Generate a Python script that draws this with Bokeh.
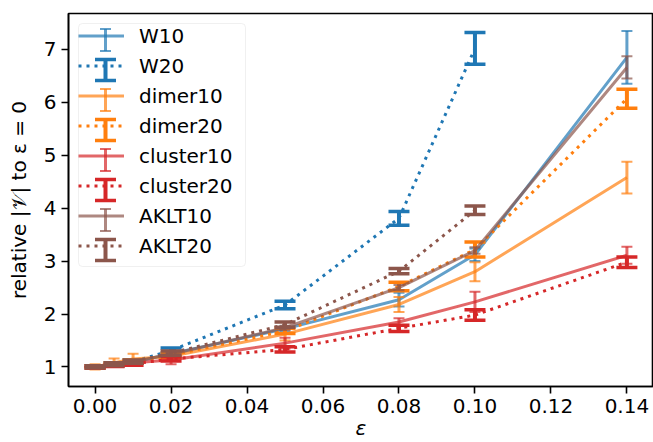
import math
from bokeh.plotting import figure
from bokeh.models import (ColumnDataSource, Legend, LegendItem, FixedTicker,
                          Range1d, BoxAnnotation)
from bokeh.embed import file_html
from bokeh.resources import INLINE

# ---- data ----
eps = [0.0, 0.005, 0.01, 0.02, 0.05, 0.08, 0.10, 0.14]
eps_short = [0.0, 0.005, 0.01, 0.02, 0.05, 0.08, 0.10]

W10 = [1.00, 1.04, 1.09, 1.25, 1.72, 2.27, 3.12, 6.85]
W10_err = [0.02, 0.03, 0.03, 0.04, 0.05, 0.13, 0.12, 0.50]
W20 = [1.00, 1.05, 1.10, 1.31, 2.17, 3.81, 7.02]
W20_err = [0.02, 0.03, 0.03, 0.05, 0.07, 0.13, 0.30]
dimer10 = [1.00, 1.08, 1.15, 1.20, 1.62, 2.18, 2.80, 4.58]
dimer10_err = [0.05, 0.08, 0.10, 0.05, 0.12, 0.14, 0.18, 0.30]
dimer20 = [1.00, 1.05, 1.10, 1.22, 1.68, 2.52, 3.22, 6.07]
dimer20_err = [0.02, 0.03, 0.03, 0.04, 0.05, 0.08, 0.14, 0.18]
cluster10 = [1.00, 1.04, 1.08, 1.13, 1.45, 1.85, 2.23, 3.11]
cluster10_err = [0.02, 0.04, 0.04, 0.08, 0.10, 0.07, 0.19, 0.16]
cluster20 = [1.00, 1.03, 1.06, 1.15, 1.33, 1.73, 1.98, 2.98]
cluster20_err = [0.02, 0.02, 0.03, 0.04, 0.05, 0.06, 0.10, 0.10]
AKLT10 = [1.00, 1.05, 1.10, 1.24, 1.74, 2.50, 3.20, 6.66]
AKLT10_err = [0.02, 0.03, 0.03, 0.04, 0.04, 0.05, 0.06, 0.21]
AKLT20 = [1.00, 1.05, 1.10, 1.26, 1.80, 2.81, 3.96]
AKLT20_err = [0.02, 0.03, 0.03, 0.04, 0.05, 0.05, 0.08]

x_ticks = [0.0, 0.02, 0.04, 0.06, 0.08, 0.10, 0.12, 0.14]
x_tick_labels = ["0.00", "0.02", "0.04", "0.06", "0.08", "0.10", "0.12", "0.14"]
y_ticks = [1, 2, 3, 4, 5, 6, 7]

BLUE, ORANGE, RED, BROWN = "#1f77b4", "#ff7f0e", "#d62728", "#8c564b"
FONT = "DejaVu Sans"

# ---- layout constants ----
BORDER_L, BORDER_T = 68, 13
LEG_MARGIN, LEG_PAD = 10, 4
LEG_GLYPH_W, LEG_ROW_H, LEG_SPACING = 46, 25, 5
LEG_STANDOFF, LEG_LABEL_W = 15, 98

p = figure(width=653, height=442, output_backend="svg", toolbar_location=None,
           x_range=Range1d(-0.007, 0.147), y_range=Range1d(0.63, 7.68),
           min_border_left=BORDER_L, min_border_right=0,
           min_border_top=BORDER_T, min_border_bottom=55)
p.grid.visible = False
p.outline_line_color = "black"
p.outline_line_width = 1.6
p.outline_line_alpha = 1.0

for ax in (p.xaxis[0], p.yaxis[0]):
    ax.axis_line_color = "black"
    ax.axis_line_width = 1.6
    ax.major_tick_out = 7
    ax.major_tick_in = 0
    ax.major_tick_line_width = 1.6
    ax.major_tick_line_color = "black"
    ax.minor_tick_line_color = None
    ax.major_label_text_font = FONT
    ax.major_label_text_font_size = "20px"
    ax.major_label_text_color = "black"
    ax.axis_label_text_font = FONT
    ax.axis_label_text_font_size = "20px"
    ax.axis_label_text_color = "black"
    ax.major_label_standoff = 5

p.xaxis.ticker = FixedTicker(ticks=x_ticks)
p.xaxis.major_label_overrides = {t: l for t, l in zip(x_ticks, x_tick_labels)}
p.yaxis.ticker = FixedTicker(ticks=y_ticks)
p.xaxis.axis_label = "ε"
p.xaxis.axis_label_text_font_style = "italic"
p.xaxis.axis_label_standoff = 0
p.yaxis.axis_label = "relative |𝒱| to ε = 0"
p.yaxis.axis_label_text_font_style = "normal"
p.yaxis.axis_label_standoff = 10

items = []
styles = []


def draw(label, xs, ys, errs, color, solid):
    alpha = 0.7 if solid else 1.0
    dash = "solid" if solid else "3 5"
    seg_w = 3 if solid else 4
    cap_size = 11 if solid else 21
    cap_w = 2 if solid else 3.5
    src = ColumnDataSource(dict(x=xs, y=ys,
                                lo=[y - e for y, e in zip(ys, errs)],
                                hi=[y + e for y, e in zip(ys, errs)]))
    ln = p.line("x", "y", source=src, line_color=color, line_alpha=alpha,
                line_width=3, line_dash=dash, line_join="round")
    p.segment("x", "lo", "x", "hi", source=src, line_color=color,
              line_alpha=alpha, line_width=seg_w)
    p.scatter("x", "lo", source=src, marker="dash", size=cap_size,
              line_color=color, line_alpha=alpha, line_width=cap_w)
    p.scatter("x", "hi", source=src, marker="dash", size=cap_size,
              line_color=color, line_alpha=alpha, line_width=cap_w)
    items.append(LegendItem(label=label, renderers=[ln]))
    styles.append((color, alpha, seg_w, cap_size, cap_w))


draw("W10", eps, W10, W10_err, BLUE, True)
draw("W20", eps_short, W20, W20_err, BLUE, False)
draw("dimer10", eps, dimer10, dimer10_err, ORANGE, True)
draw("dimer20", eps, dimer20, dimer20_err, ORANGE, False)
draw("cluster10", eps, cluster10, cluster10_err, RED, True)
draw("cluster20", eps, cluster20, cluster20_err, RED, False)
draw("AKLT10", eps, AKLT10, AKLT10_err, BROWN, True)
draw("AKLT20", eps_short, AKLT20, AKLT20_err, BROWN, False)

# legend frame (drawn as a box so the error-bar handles can sit above it)
n = len(items)
leg_l = BORDER_L + LEG_MARGIN
leg_t = BORDER_T + LEG_MARGIN
leg_r = leg_l + 2 * LEG_PAD + LEG_GLYPH_W + LEG_STANDOFF + LEG_LABEL_W
leg_b = leg_t + 2 * LEG_PAD + n * LEG_ROW_H + (n - 1) * LEG_SPACING
p.add_layout(BoxAnnotation(left=leg_l, right=leg_r, top=leg_t, bottom=leg_b,
                           left_units="canvas", right_units="canvas",
                           top_units="canvas", bottom_units="canvas",
                           fill_color="white", fill_alpha=0.8,
                           line_color="#cccccc", line_width=1,
                           border_radius=4))

# error-bar handles at the legend glyph centres (canvas pixels)
cx = leg_l + LEG_PAD + LEG_GLYPH_W / 2
for i, (color, alpha, seg_w, cap_size, cap_w) in enumerate(styles):
    cy = leg_t + LEG_PAD + LEG_ROW_H / 2 + i * (LEG_ROW_H + LEG_SPACING)
    half = 11 if cap_size < 15 else 10.5

    def box(l, r, t, b):
        p.add_layout(BoxAnnotation(left=l, right=r, top=t, bottom=b,
                                   left_units="canvas", right_units="canvas",
                                   top_units="canvas", bottom_units="canvas",
                                   fill_color=color, fill_alpha=alpha,
                                   line_color=None))

    box(cx - seg_w / 2, cx + seg_w / 2, cy - half, cy + half)
    box(cx - cap_size / 2, cx + cap_size / 2, cy - half - cap_w / 2, cy - half + cap_w / 2)
    box(cx - cap_size / 2, cx + cap_size / 2, cy + half - cap_w / 2, cy + half + cap_w / 2)

legend = Legend(items=items, location="top_left", margin=LEG_MARGIN,
                padding=LEG_PAD, spacing=LEG_SPACING, glyph_width=LEG_GLYPH_W,
                glyph_height=LEG_ROW_H, label_height=LEG_ROW_H,
                label_width=LEG_LABEL_W, label_standoff=LEG_STANDOFF,
                label_text_font=FONT, label_text_font_size="20px",
                label_text_color="black", background_fill_alpha=0.0,
                border_line_color=None)
p.add_layout(legend)

open("out.html", "w").write(file_html(p, INLINE))
